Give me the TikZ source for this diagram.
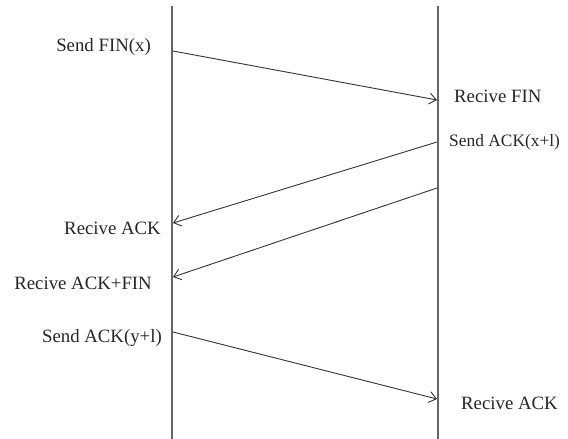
\documentclass[tikz,border=0pt]{standalone}
\usepackage{fontspec}
\setmainfont{Liberation Serif}
\usetikzlibrary{arrows.meta}
\begin{document}
\begin{tikzpicture}[x=1pt,y=-1pt,
  lifeline/.style={draw=black!60,line width=1.4pt},
  msg/.style={draw=black!80,line width=0.9pt,-{Straight Barb[length=7pt,width=11pt]}},
  lbl/.style={font=\fontsize{18.8}{20}\selectfont,inner sep=0pt,text=black!85}]
\useasboundingbox (0,0) rectangle (568,439);
% lifelines
\coordinate (lt) at (172,6); \coordinate (lb) at (172,439);
\coordinate (rt) at (438,6); \coordinate (rb) at (438,439);
\draw[lifeline] (lt) -- (lb);
\draw[lifeline] (rt) -- (rb);
% message endpoints
\coordinate (a1) at (173,51); \coordinate (b1) at (437,100);
\coordinate (a2) at (437,142); \coordinate (b2) at (173,223);
\coordinate (a3) at (437,188); \coordinate (b3) at (173,277);
\coordinate (a4) at (173,332); \coordinate (b4) at (437,399);
\draw[msg] (a1) -- (b1);
\draw[msg] (a2) -- (b2);
\draw[msg] (a3) -- (b3);
\draw[msg] (a4) -- (b4);
% labels
\node[lbl,anchor=east] (t1) at (151,47) {Send FIN(x)};
\node[lbl,anchor=west] (t2) at (454,96) {Recive FIN};
\node[lbl,anchor=west,font=\fontsize{17.4}{20}\selectfont] (t3) at (449,142) {Send ACK(x+l)};
\node[lbl,anchor=east] (t4) at (161,228) {Recive ACK};
\node[lbl,anchor=east] (t5) at (152,283) {Recive ACK+FIN};
\node[lbl,anchor=east] (t6) at (162,338) {Send ACK(y+l)};
\node[lbl,anchor=west] (t7) at (461,403) {Recive ACK};
\end{tikzpicture}
\end{document}
